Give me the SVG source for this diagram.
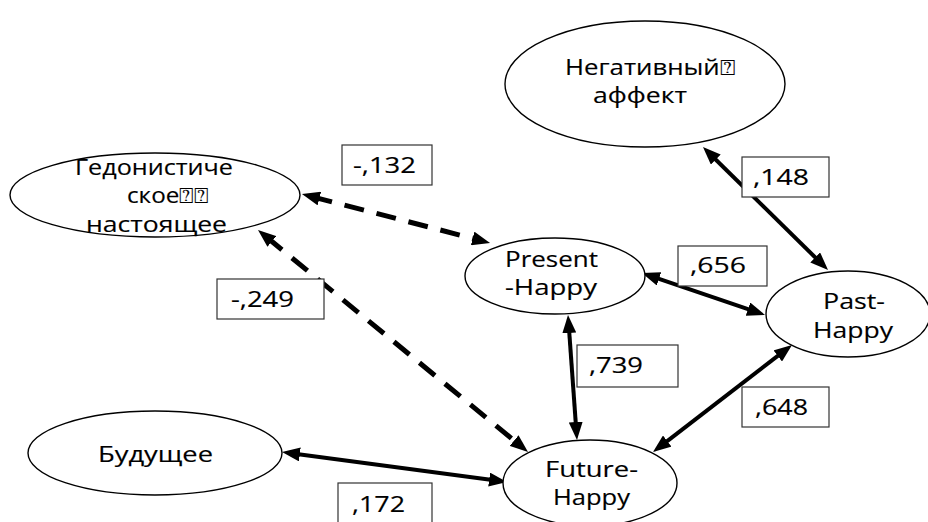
<svg xmlns="http://www.w3.org/2000/svg" width="928" height="522" viewBox="0 0 928 522">
<style>
.node ellipse{fill:#fff;stroke:#000;stroke-width:1.4}
.node text,.lbl text{font-family:"Open Sans","Noto Sans","DejaVu Sans",sans-serif;font-size:22px;fill:#000;stroke:#000;stroke-width:0.15}
.lbl rect{fill:#fff;stroke:#333;stroke-width:1.2}
.conn path{fill:none;stroke:#000;stroke-width:4}
.conn path.dash{stroke-width:5;stroke-dasharray:20 13}
</style>
<defs>
<marker id="ah" markerUnits="userSpaceOnUse" markerWidth="18" markerHeight="14" refX="7" refY="7" orient="auto-start-reverse" viewBox="0 0 18 14">
<path d="M0,0 L18,7 L0,14 z" fill="#000"/>
</marker>
</defs>
<rect width="928" height="522" fill="#fff"/>
<g id="connectors" class="conn">
<path class="dash" d="M312.6,196.8 L479.4,240.2" marker-start="url(#ah)" marker-end="url(#ah)"/>
<path class="dash" d="M266.5,237 L519.5,445" marker-start="url(#ah)" marker-end="url(#ah)"/>
<path d="M568.8,326 L576.2,429" marker-start="url(#ah)" marker-end="url(#ah)"/>
<path d="M652.4,276.6 L754.6,311.4" marker-start="url(#ah)" marker-end="url(#ah)"/>
<path d="M710.8,154.7 L820.2,262.3" marker-start="url(#ah)" marker-end="url(#ah)"/>
<path d="M783.3,351.7 L661.7,445.3" marker-start="url(#ah)" marker-end="url(#ah)"/>
<path d="M292.9,453.5 L496.1,480.5" marker-start="url(#ah)" marker-end="url(#ah)"/>
</g>
<g id="neg" class="node">
<ellipse cx="645" cy="84" rx="140" ry="63"/>
<text x="565" y="75" textLength="170" lengthAdjust="spacingAndGlyphs">Негативный⍰</text>
<text x="593" y="103" textLength="94" lengthAdjust="spacingAndGlyphs">аффект</text>
</g>
<g id="hed" class="node">
<ellipse cx="155" cy="195" rx="145" ry="42"/>
<text x="75" y="175" textLength="158" lengthAdjust="spacingAndGlyphs">Гедонистиче</text>
<text x="127" y="203" textLength="81" lengthAdjust="spacingAndGlyphs">ское⍰⍰</text>
<text x="86" y="232" textLength="141" lengthAdjust="spacingAndGlyphs">настоящее</text>
</g>
<g id="present" class="node">
<ellipse cx="555" cy="276" rx="90" ry="38"/>
<text x="505" y="267" textLength="93" lengthAdjust="spacingAndGlyphs">Present</text>
<text x="505" y="295" textLength="92" lengthAdjust="spacingAndGlyphs">-Happy</text>
</g>
<g id="past" class="node">
<ellipse cx="848" cy="314" rx="82" ry="43"/>
<text x="823" y="309" textLength="62" lengthAdjust="spacingAndGlyphs">Past-</text>
<text x="813" y="338" textLength="80" lengthAdjust="spacingAndGlyphs">Happy</text>
</g>
<g id="future" class="node">
<ellipse cx="590" cy="483" rx="87" ry="43"/>
<text x="545" y="477" textLength="93" lengthAdjust="spacingAndGlyphs">Future-</text>
<text x="553" y="505" textLength="77" lengthAdjust="spacingAndGlyphs">Happy</text>
</g>
<g id="bud" class="node">
<ellipse cx="155" cy="453" rx="127" ry="42"/>
<text x="98" y="462" textLength="115" lengthAdjust="spacingAndGlyphs">Будущее</text>
</g>
<g id="labels" class="lbl">
<g id="l132"><rect x="342" y="145" width="90" height="40"/><text x="353" y="173" textLength="63" lengthAdjust="spacingAndGlyphs">-,132</text></g>
<g id="l148"><rect x="742" y="157" width="87" height="40"/><text x="753" y="185" textLength="56" lengthAdjust="spacingAndGlyphs">,148</text></g>
<g id="l656"><rect x="678" y="246" width="89" height="40"/><text x="690" y="273" textLength="56" lengthAdjust="spacingAndGlyphs">,656</text></g>
<g id="l249"><rect x="217" y="279" width="107" height="40"/><text x="231" y="307" textLength="63" lengthAdjust="spacingAndGlyphs">-,249</text></g>
<g id="l739"><rect x="577" y="345" width="101" height="42"/><text x="589" y="373" textLength="54" lengthAdjust="spacingAndGlyphs">,739</text></g>
<g id="l648"><rect x="742" y="387" width="87" height="40"/><text x="755" y="415" textLength="53" lengthAdjust="spacingAndGlyphs">,648</text></g>
<g id="l172"><rect x="338" y="483" width="94" height="45"/><text x="352" y="512" textLength="53" lengthAdjust="spacingAndGlyphs">,172</text></g>
</g>
</svg>
